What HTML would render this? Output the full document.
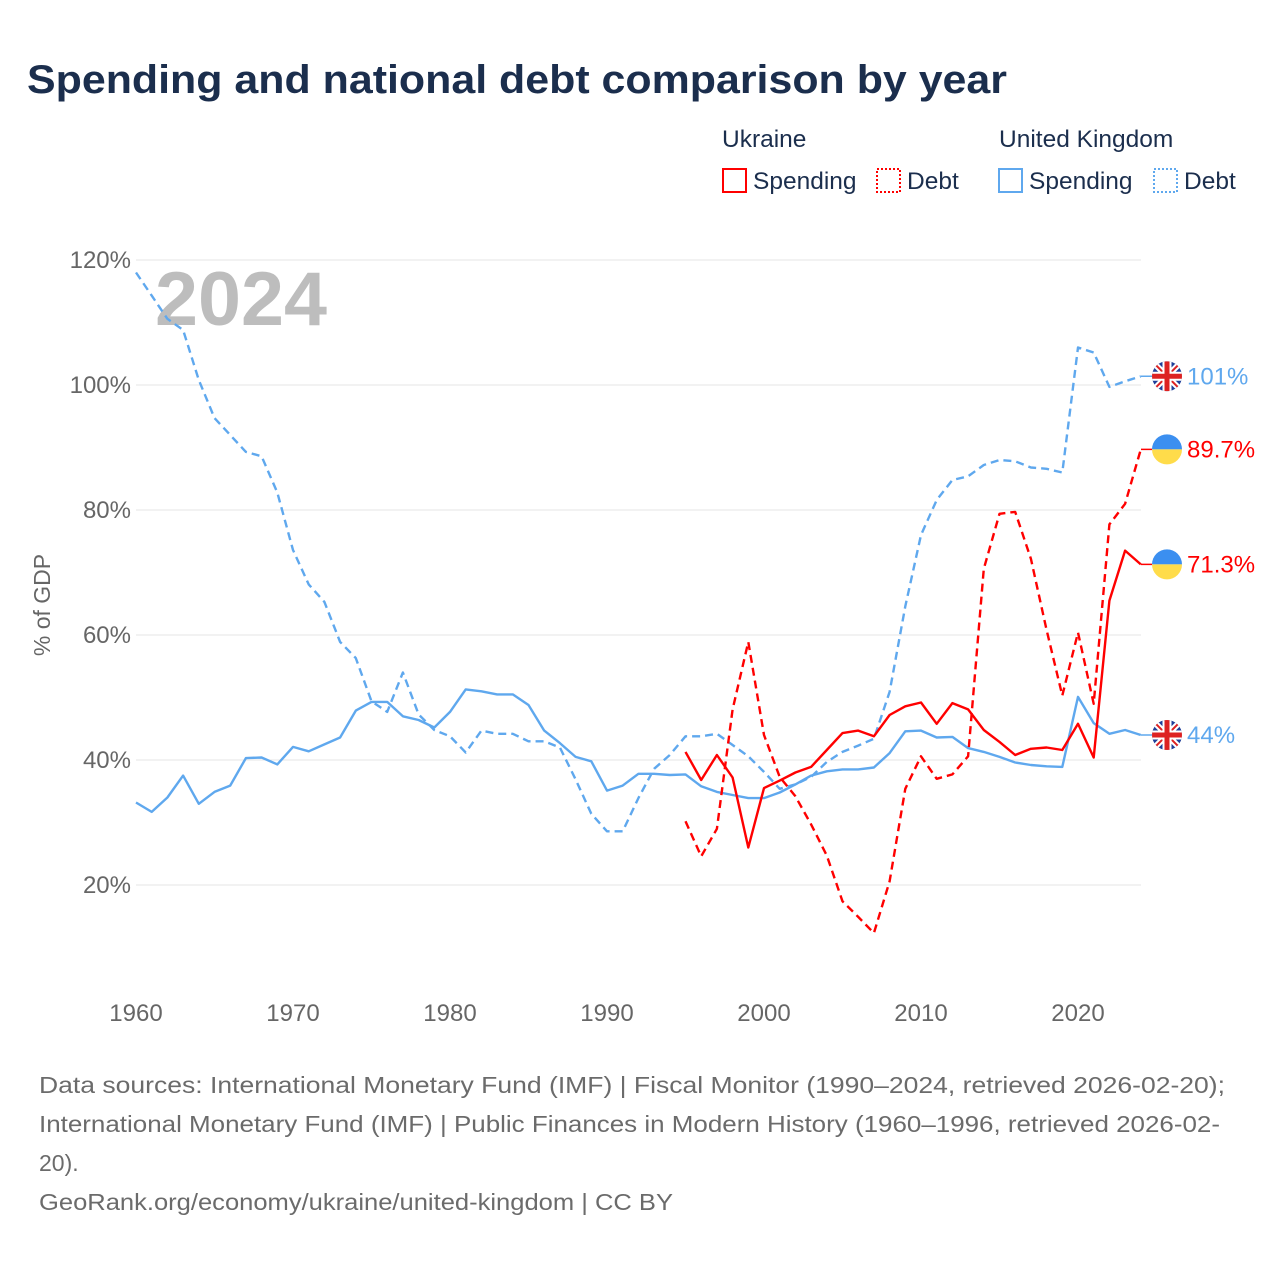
<!DOCTYPE html>
<html><head><meta charset="utf-8"><style>
html,body{margin:0;padding:0;background:#fff}
svg{display:block;font-family:"Liberation Sans",sans-serif}
</style></head><body>
<svg id="chart" width="1280" height="1280" viewBox="0 0 1280 1280">
<text x="27" y="93" font-size="40" font-weight="bold" fill="#1b2e4d" textLength="980" lengthAdjust="spacingAndGlyphs">Spending and national debt comparison by year</text>
<g font-size="24.5" fill="#1b2e4d">
<text x="722" y="147">Ukraine</text>
<text x="999" y="147">United Kingdom</text>
<g><rect x="723" y="169" width="23" height="23" fill="none" stroke="#f00" stroke-width="2"/><text x="753" y="189">Spending</text></g>
<g><rect x="877" y="169" width="23" height="23" fill="none" stroke="#f00" stroke-width="2" stroke-dasharray="2,2"/><text x="907" y="189">Debt</text></g>
<g><rect x="999" y="169" width="23" height="23" fill="none" stroke="#5fa8ee" stroke-width="2"/><text x="1029" y="189">Spending</text></g>
<g><rect x="1154" y="169" width="23" height="23" fill="none" stroke="#5fa8ee" stroke-width="2" stroke-dasharray="2,2"/><text x="1184" y="189">Debt</text></g>
</g>
<g id="grid"></g>
<g id="yticks" font-size="24" fill="#666"></g>
<g id="xticks" font-size="24" fill="#666"></g>
<text x="50" y="605" font-size="23" fill="#666" transform="rotate(-90 50 605)" text-anchor="middle">% of GDP</text>
<text x="155" y="325" font-size="76" font-weight="bold" fill="#bdbdbd" textLength="172" lengthAdjust="spacingAndGlyphs">2024</text>
<g id="series"></g>
<g id="endlabels"></g>
<g font-size="23" fill="#6b6b6b">
<text x="39" y="1093" textLength="1186" lengthAdjust="spacingAndGlyphs">Data sources: International Monetary Fund (IMF) | Fiscal Monitor (1990–2024, retrieved 2026-02-20);</text>
<text x="39" y="1132" textLength="1181" lengthAdjust="spacingAndGlyphs">International Monetary Fund (IMF) | Public Finances in Modern History (1960–1996, retrieved 2026-02-</text>
<text x="39" y="1171">20).</text>
<text x="39" y="1210" textLength="634" lengthAdjust="spacingAndGlyphs">GeoRank.org/economy/ukraine/united-kingdom | CC BY</text>
</g>
</svg>
<script>
const yTicks = [20, 40, 60, 80, 100, 120];
const xTicks = [1960, 1970, 1980, 1990, 2000, 2010, 2020];
const ukYears = [1960,1961,1962,1963,1964,1965,1966,1967,1968,1969,1970,1971,1972,1973,1974,1975,1976,1977,1978,1979,1980,1981,1982,1983,1984,1985,1986,1987,1988,1989,1990,1991,1992,1993,1994,1995,1996,1997,1998,1999,2000,2001,2002,2003,2004,2005,2006,2007,2008,2009,2010,2011,2012,2013,2014,2015,2016,2017,2018,2019,2020,2021,2022,2023,2024];
const ukSpending = [33.2,31.7,34,37.5,33,34.9,35.9,40.3,40.4,39.3,42.1,41.4,42.5,43.6,47.9,49.3,49.3,47,46.4,45.2,47.7,51.3,51,50.5,50.5,48.8,44.7,42.7,40.5,39.8,35.1,35.9,37.8,37.8,37.6,37.7,35.8,34.9,34.4,33.9,33.9,34.8,36.1,37.5,38.2,38.5,38.5,38.8,41.1,44.6,44.7,43.6,43.7,41.9,41.3,40.5,39.6,39.2,39,38.9,50.1,45.9,44.2,44.8,44];
const ukDebt = [118,114.3,110.6,108.8,100.8,94.7,92,89.3,88.6,82.8,73.6,68.1,65.3,58.9,56.3,49.4,47.7,54,47.3,44.8,43.8,41.2,44.7,44.2,44.2,43,43,42,36.9,31.4,28.6,28.6,33.9,38.6,40.8,43.8,43.8,44.2,42.4,40.6,38.1,35.4,36.1,37.3,39.7,41.3,42.3,43.4,50.9,64.6,76,81.6,84.8,85.4,87.2,88,87.8,86.8,86.6,86,106,105.2,99.7,100.6,101.4];
const uaYears = [1995,1996,1997,1998,1999,2000,2001,2002,2003,2004,2005,2006,2007,2008,2009,2010,2011,2012,2013,2014,2015,2016,2017,2018,2019,2020,2021,2022,2023,2024];
const uaSpending = [41.3,36.8,40.8,37.2,26,35.5,36.7,38,38.9,41.6,44.3,44.7,43.8,47.2,48.6,49.2,45.8,49.1,48.1,44.8,42.9,40.8,41.8,42,41.6,45.8,40.4,65.5,73.5,71.3];
const uaDebt = [30.2,24.6,29,48.1,58.9,44,37.3,34.2,29.7,24.7,17.4,14.9,12.3,20.6,35.4,40.6,37,37.7,40.6,70.6,79.4,79.7,72.2,60.8,50.3,60.4,49,77.7,81,89.7];

const NS = 'http://www.w3.org/2000/svg';
const X = yr => 136 + (yr - 1960) * 15.7;
const Y = v => 1010 - v * 6.25;
function mk(tag, attrs, parent){ const e=document.createElementNS(NS,tag); for(const k in attrs) e.setAttribute(k,attrs[k]); parent.appendChild(e); return e; }
const grid=document.getElementById('grid'), yt=document.getElementById('yticks'), xt=document.getElementById('xticks');
yTicks.forEach(v=>{
  const l=mk('line',{x1:136,x2:1141,y1:Y(v),y2:Y(v),stroke:'#e6e6e6','stroke-width':1},grid);
  
  
  const t=mk('text',{x:131,y:Y(v)+8,'text-anchor':'end'},yt); t.textContent=v+'%';
  
  
});
xTicks.forEach(v=>{
  const t=mk('text',{x:X(v),y:1021,'text-anchor':'middle'},xt); t.textContent=v;
  
  
});
const ser=document.getElementById('series');
function line(years, vals, color, dash, name){
  const d=vals.map((v,i)=>(i?'L':'M')+X(years[i]).toFixed(1)+','+Y(v).toFixed(1)).join('');
  const p=mk('path',{d:d,fill:'none',stroke:color,'stroke-width':2.4,'stroke-linejoin':'round'},ser);
  if(dash) p.setAttribute('stroke-dasharray','8,5');
  
  
}
line(ukYears, ukDebt, '#5fa8ee', true, 'line-uk-debt');
line(ukYears, ukSpending, '#5fa8ee', false, 'line-uk-spending');
line(uaYears, uaDebt, '#f00', true, 'line-ukraine-debt');
line(uaYears, uaSpending, '#f00', false, 'line-ukraine-spending');

const el=document.getElementById('endlabels');
function ukFlag(cx,cy,g){
  const id='c'+Math.round(cy);
  const cp=mk('clipPath',{id:id},g); mk('circle',{cx:cx,cy:cy,r:15},cp);
  const f=mk('g',{'clip-path':'url(#'+id+')'},g);
  mk('rect',{x:cx-15,y:cy-15,width:30,height:30,fill:'#1f3f99'},f);
  mk('path',{d:`M${cx-15},${cy-15}L${cx+15},${cy+15}M${cx+15},${cy-15}L${cx-15},${cy+15}`,stroke:'#fff','stroke-width':6},f);
  mk('path',{d:`M${cx-15},${cy-15}L${cx+15},${cy+15}M${cx+15},${cy-15}L${cx-15},${cy+15}`,stroke:'#d22','stroke-width':2},f);
  mk('rect',{x:cx-15,y:cy-4.5,width:30,height:9,fill:'#fff'},f);
  mk('rect',{x:cx-4.5,y:cy-15,width:9,height:30,fill:'#fff'},f);
  mk('rect',{x:cx-15,y:cy-2.5,width:30,height:5,fill:'#d22'},f);
  mk('rect',{x:cx-2.5,y:cy-15,width:5,height:30,fill:'#d22'},f);
}
function uaFlag(cx,cy,g){
  mk('path',{d:`M${cx-15},${cy}A15,15 0 0 1 ${cx+15},${cy}Z`,fill:'#3b8ff0'},g);
  mk('path',{d:`M${cx-15},${cy}A15,15 0 0 0 ${cx+15},${cy}Z`,fill:'#ffdc4a'},g);
}
function endLabel(val, text, color, isUK, name){
  const g=mk('g',{},el);
  
  
  const y=Y(val);
  mk('line',{x1:1141,x2:1152,y1:y,y2:y,stroke:color,'stroke-width':1.5},g);
  if(isUK) ukFlag(1167,y,g); else uaFlag(1167,y,g);
  const t=mk('text',{x:1187,y:y+8,'font-size':24,fill:color},g); t.textContent=text;
}
endLabel(ukDebt[ukDebt.length-1],'101%','#5fa8ee',true,'end-label-uk-debt');
endLabel(uaDebt[uaDebt.length-1],'89.7%','#f00',false,'end-label-ukraine-debt');
endLabel(uaSpending[uaSpending.length-1],'71.3%','#f00',false,'end-label-ukraine-spending');
endLabel(ukSpending[ukSpending.length-1],'44%','#5fa8ee',true,'end-label-uk-spending');
</script>
</body></html>
